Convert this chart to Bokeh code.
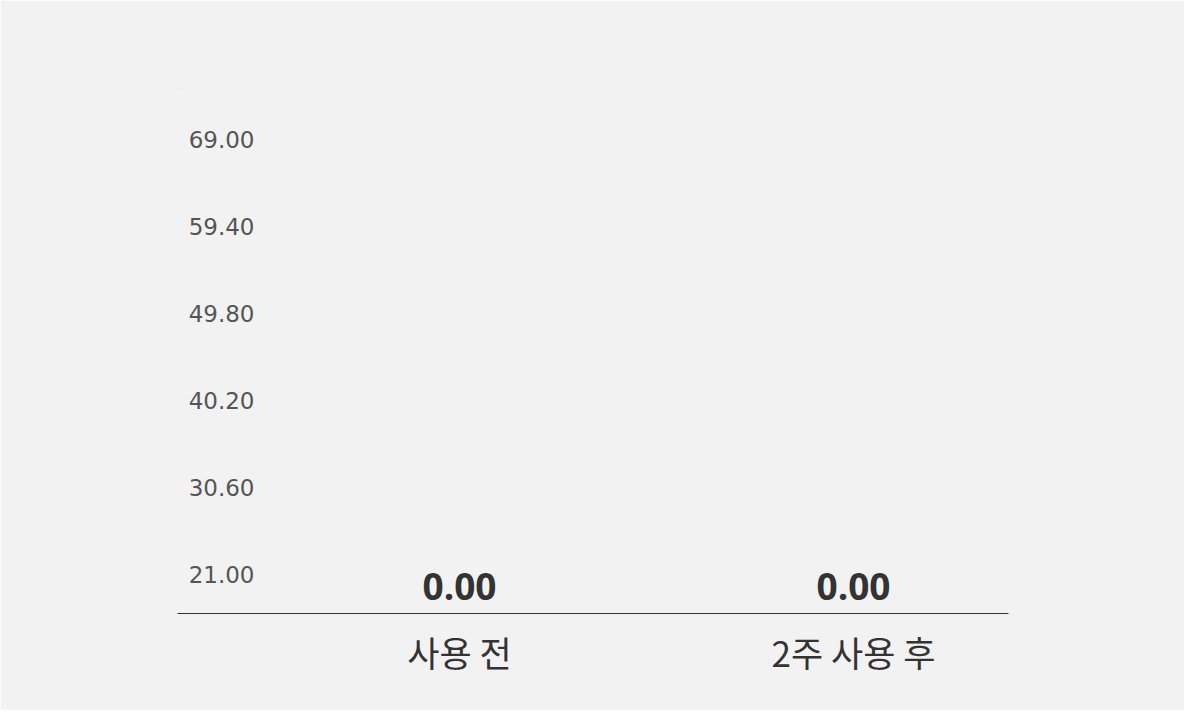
from bokeh.plotting import figure
from bokeh.models import Range1d, FixedTicker, PrintfTickFormatter, ColumnDataSource
from bokeh.core.properties import value
from bokeh.embed import file_html
from bokeh.resources import INLINE

categories = ["사용 전", "2주 사용 후"]
values = [0.0, 0.0]
y_ticks = [21.0, 30.6, 40.2, 49.8, 59.4, 69.0]

BG = "#f2f2f2"
x_pos = [i + 0.5 for i in range(len(categories))]

p = figure(width=1184, height=710, output_backend="svg", toolbar_location=None,
           x_range=Range1d(-0.2157, 1.8934), y_range=Range1d(16.697, 74.186),
           min_border_left=177, min_border_right=176, min_border_top=92, min_border_bottom=97,
           background_fill_color=BG, border_fill_color=BG, outline_line_color=None)
p.grid.grid_line_color = None

src = ColumnDataSource(dict(x=x_pos, top=values,
                            lab_y=[max(v, y_ticks[0]) for v in values],
                            lab=["%.2f" % v for v in values]))
p.vbar(x="x", top="top", bottom=0, width=0.5, source=src, fill_color="#c8b8a8", line_color=None)
p.text(x="x", y="lab_y", text="lab", source=src, text_align="center", text_baseline="middle",
       y_offset=12, text_font=value("Open Sans"), text_font_style="bold",
       text_font_size="37px", text_color="#333333")

# x axis
xa = p.xaxis[0]
xa.ticker = FixedTicker(ticks=x_pos)
xa.major_label_overrides = {x: c for x, c in zip(x_pos, categories)}
xa.major_label_text_font = "Noto Sans CJK KR"
xa.major_label_text_font_size = "35px"
xa.major_label_text_font_style = "normal"
xa.major_label_text_color = "#333333"
xa.axis_line_color = "#333333"
xa.axis_line_width = 1
xa.major_tick_line_color = None
xa.minor_tick_line_color = None
xa.major_tick_out = 0
xa.major_label_standoff = 12

# y axis
ya = p.yaxis[0]
ya.ticker = FixedTicker(ticks=y_ticks)
ya.formatter = PrintfTickFormatter(format="%.2f")
ya.axis_line_color = None
ya.major_tick_line_color = None
ya.minor_tick_line_color = None
ya.major_tick_out = 0
ya.major_label_standoff = -77
ya.major_label_text_font = "DejaVu Sans"
ya.major_label_text_font_size = "23px"
ya.major_label_text_color = "#555555"

html = file_html(p, INLINE)
html = html.replace("<body>", '<body style="background:%s">' % BG, 1)
open("out.html", "w").write(html)
